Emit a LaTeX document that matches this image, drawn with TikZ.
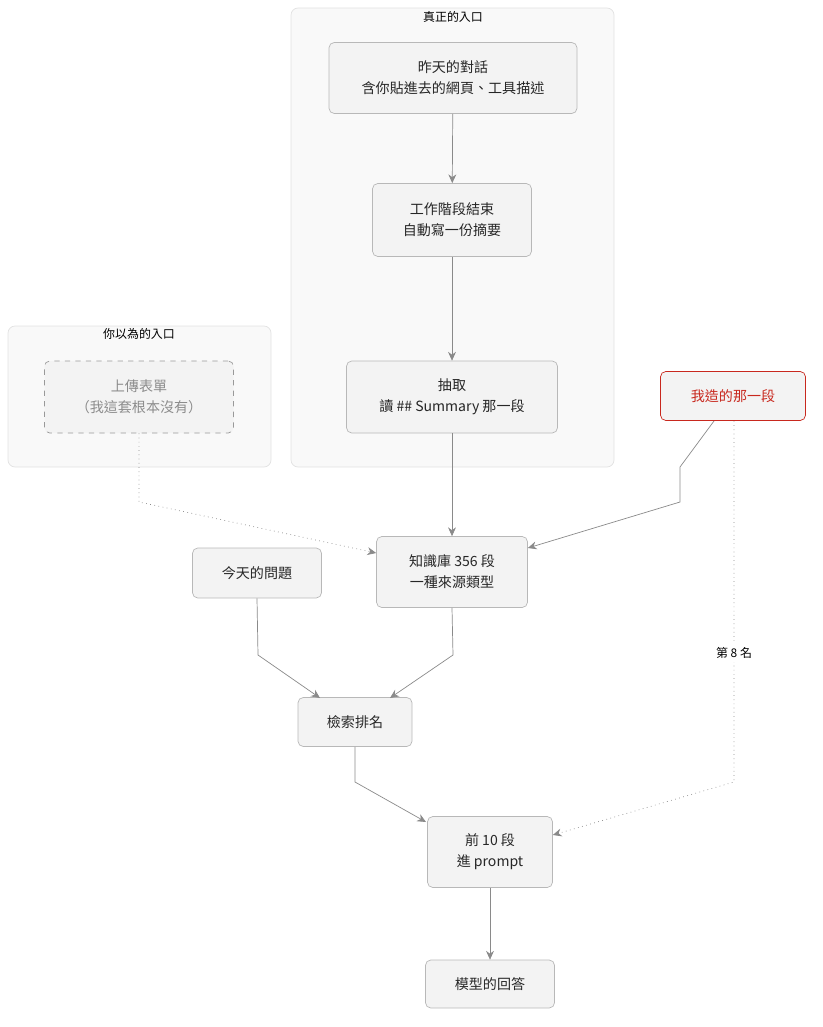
\documentclass[tikz,border=0pt]{standalone}
\usepackage{fontspec}
\setmainfont{Noto Sans CJK TC}
\usetikzlibrary{arrows.meta}
\usetikzlibrary{positioning}
\definecolor{boxfill}{HTML}{F3F3F3}
\definecolor{boxline}{HTML}{B8B8B8}
\definecolor{grpfill}{HTML}{F9F9F9}
\definecolor{grpline}{HTML}{E2E2E2}
\definecolor{edge}{HTML}{8A8A8A}
\definecolor{mine}{HTML}{C8281E}
\tikzset{
  box/.style={draw=boxline,fill=boxfill,rounded corners=3pt,align=center,font=\fontsize{8}{12}\selectfont,text=black!85},
  grp/.style={draw=grpline,fill=grpfill,rounded corners=4pt},
  grptitle/.style={font=\fontsize{6.8}{8}\selectfont},
  link/.style={draw=edge,-{Stealth[length=5pt,width=4.5pt]}},
  dotlink/.style={link,dotted,thick}
}
\begin{document}
\begin{tikzpicture}[x=0.02cm,y=-0.02cm]
\useasboundingbox (0,0) rectangle (822,1027);
% groups
\draw[grp] (291,8) rectangle (614,467);
\node[grptitle] (realT) at (453,17) {真正的入口};
\draw[grp] (8,326) rectangle (271,467);
\node[grptitle] (fakeT) at (139,334) {你以為的入口};
% nodes
\node[box,minimum width=248*0.02cm,minimum height=71*0.02cm] (chat) at (453,78) {昨天的對話\\含你貼進去的網頁、工具描述};
\node[box,minimum width=159*0.02cm,minimum height=73*0.02cm] (end) at (452,220) {工作階段結束\\自動寫一份摘要};
\node[box,minimum width=211*0.02cm,minimum height=72*0.02cm] (pick) at (452,397) {抽取\\讀 \#\# Summary 那一段};
\node[box,dashed,draw=black!40,text=black!45,minimum width=189*0.02cm,minimum height=72*0.02cm] (form) at (139,397) {上傳表單\\（我這套根本沒有）};
\node[box,draw=mine,text=mine,minimum width=145*0.02cm,minimum height=49*0.02cm] (fake) at (733,396) {我造的那一段};
\node[box,minimum width=151*0.02cm,minimum height=71*0.02cm] (kb) at (452,572) {知識庫 356 段\\一種來源類型};
\node[box,minimum width=129*0.02cm,minimum height=50*0.02cm] (q) at (257,573) {今天的問題};
\node[box,minimum width=114*0.02cm,minimum height=49*0.02cm] (rank) at (355,722) {檢索排名};
\node[box,minimum width=125*0.02cm,minimum height=71*0.02cm] (top) at (490,852) {前 10 段\\進 prompt};
\node[box,minimum width=129*0.02cm,minimum height=48*0.02cm] (ans) at (490,984) {模型的回答};
% connectors
\draw[link] (chat) -- (end);
\draw[link] (end) -- (pick);
\draw[link] (pick) -- (kb);
\draw[dotlink,thin] (form.south) -- (139,502) -- (kb.west |- 0,553);
\draw[link] (714,421) -- (680,467) -- (680,502) -- (kb.east |- 0,548);
\draw[link] (q.south) -- (258,655) -- (320,698);
\draw[link] (kb.south) -- (453,655) -- (390,698);
\draw[link] (rank.south) -- (355,782) -- (426,822);
\draw[dotlink,thin] (734,421) -- (734,782) -- (top.east |- 0,835);
\node[fill=white,inner sep=2pt,font=\fontsize{6.8}{8}\selectfont] (rank8) at (734,653) {第 8 名};
\draw[link] (top) -- (ans);
\end{tikzpicture}
\end{document}
